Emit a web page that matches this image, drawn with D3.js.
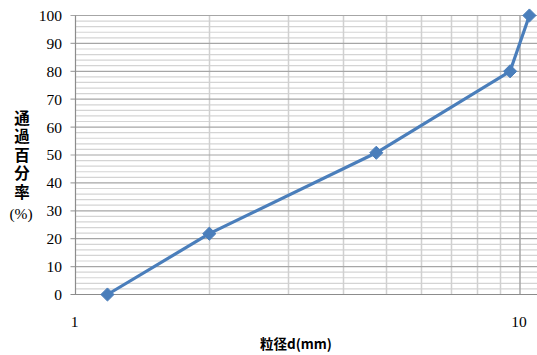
<!DOCTYPE html>
<html><head><meta charset="utf-8">
<script src="https://cdn.jsdelivr.net/npm/d3@7"></script>
<style>
html,body{margin:0;padding:0;background:#fff;}
svg{display:block;}
.num{font-family:"Liberation Serif","DejaVu Serif",serif;font-size:15.5px;fill:#000;}
.jp{font-family:"Noto Sans CJK JP",sans-serif;font-weight:bold;fill:#000;}
</style></head>
<body>
<svg id="chart" width="537" height="355"></svg>
<script>
// Particle size (mm) vs. percent passing
const sizes = [1.18, 2.0, 4.75, 9.5, 10.5];
const passing = [0, 21.8, 50.8, 80, 100];
const yTicks = [0, 10, 20, 30, 40, 50, 60, 70, 80, 90, 100];
const xTickLabels = [1, 10];
const yTitle = "通過百分率";
const yUnit = "(%)";
const xTitle = "粒径d(mm)";

const W = 537, H = 355;
const svg = d3.select("#chart");
const plotLeft = 75.5, plotTop = 15.5, plotBottom = 294.5;

const x = d3.scaleLog().domain([1, 10]).range([plotLeft, 520]);
const y = d3.scaleLinear().domain([0, 100]).range([plotBottom, plotTop]);

const grid = svg.append("g");
// horizontal minor grid every 2%
d3.range(2, 100, 2).filter(v => v % 10 !== 0).forEach(v => {
  grid.append("line").attr("x1", plotLeft).attr("x2", W).attr("y1", y(v)).attr("y2", y(v))
    .attr("stroke", "#d4d4d4").attr("stroke-width", 1.2);
});
// vertical minor grid
[2,3,4,5,6,7,8,9].forEach(v => {
  grid.append("line").attr("x1", Math.round(x(v)) + 0.5).attr("x2", Math.round(x(v)) + 0.5)
    .attr("y1", plotTop).attr("y2", plotBottom).attr("stroke", "#d0d0d0").attr("stroke-width", 1.5);
});
// major vertical at 10
grid.append("line").attr("x1", x(10)).attr("x2", x(10)).attr("y1", plotTop).attr("y2", plotBottom)
  .attr("stroke", "#a6a6a6").attr("stroke-width", 1.5);
// major horizontal grid every 10%
yTicks.forEach(v => {
  grid.append("line").attr("x1", plotLeft - 5).attr("x2", W).attr("y1", y(v)).attr("y2", y(v))
    .attr("stroke", v === 0 ? "#8c8c8c" : "#a6a6a6").attr("stroke-width", 1.2);
});
// y axis line
grid.append("line").attr("x1", plotLeft).attr("x2", plotLeft).attr("y1", plotTop).attr("y2", plotBottom)
  .attr("stroke", "#8c8c8c").attr("stroke-width", 1.2);

// y tick labels
svg.append("g").selectAll("text").data(yTicks).join("text")
  .attr("class", "num")
  .attr("x", 62).attr("y", d => y(d)).attr("dy", "0.35em")
  .attr("text-anchor", "end").text(d => d);
// x tick labels
svg.append("g").selectAll("text").data(xTickLabels).join("text")
  .attr("class", "num")
  .attr("x", d => x(d) - 1).attr("y", 327)
  .attr("text-anchor", "middle").text(d => d);

// axis titles
svg.append("text").attr("class", "jp").attr("x", 296).attr("y", 349)
  .attr("text-anchor", "middle").style("font-size", "13.5px").text(xTitle);
// vertical y title, one column of characters
svg.append("text").attr("class", "jp")
  .attr("x", 22).attr("y", 110)
  .style("font-size", "15.5px")
  .style("writing-mode", "vertical-rl")
  .style("text-orientation", "upright")
  .style("letter-spacing", "3px")
  .text(yTitle);
svg.append("text").attr("class", "num").attr("x", 21).attr("y", 219)
  .attr("text-anchor", "middle").text(yUnit);

// data line and diamond markers
const pts = sizes.map((s, i) => [s, passing[i]]);
svg.append("path").datum(pts)
  .attr("d", d3.line().x(d => x(d[0])).y(d => y(d[1])))
  .attr("fill", "none").attr("stroke", "#4a7ebb").attr("stroke-width", 3.2)
  .attr("stroke-linejoin", "round");
svg.append("g").selectAll("path").data(pts).join("path")
  .attr("transform", d => `translate(${x(d[0])},${y(d[1])})`)
  .attr("d", d3.symbol().type(d3.symbolDiamond2).size(110))
  .attr("fill", "#4a7ebb").attr("stroke", "#4a7ebb").attr("stroke-width", 1);
</script>
</body></html>
